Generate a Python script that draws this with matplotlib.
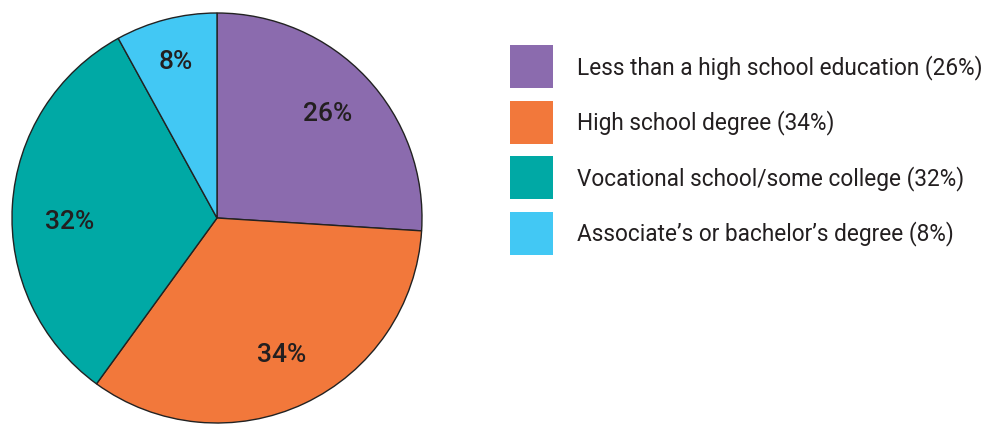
import matplotlib
matplotlib.use("Agg")
import matplotlib.pyplot as plt
from matplotlib.patches import Rectangle

categories = ["Less than a high school education", "High school degree",
              "Vocational school/some college", "Associate\u2019s or bachelor\u2019s degree"]
values = [26, 34, 32, 8]
colors = ["#8B6BAE", "#F2783B", "#00A9A5", "#42C8F4"]

W, H = 994, 426
fig = plt.figure(figsize=(W / 100, H / 100), dpi=100)
fig.patch.set_facecolor("white")

font = ["Roboto", "DejaVu Sans"]

# Pie axes (pixel box: x 12..422, y top 13..423)
cx, cy, r = 217, 218, 205
ax = fig.add_axes([(cx - r) / W, (H - cy - r) / H, 2 * r / W, 2 * r / H])
wedges, texts, autotexts = ax.pie(
    values, colors=colors, startangle=90, counterclock=False,
    autopct=lambda p: f"{p:.0f}%", pctdistance=0.74,
    wedgeprops=dict(edgecolor="#222222", linewidth=1.0),
    textprops=dict(fontsize=19, color="#231F20", fontweight=500, family=font),
)
# nudge the two left labels to match the original placement
autotexts[2].set_position((-0.72, -0.02))
autotexts[3].set_position((-0.20, 0.76))
ax.set_aspect("equal")
ax.set_xlim(-1.0, 1.0)
ax.set_ylim(-1.0, 1.0)
ax.axis("off")

# Legend axes in pixel coordinates
lax = fig.add_axes([0, 0, 1, 1])
lax.set_xlim(0, W)
lax.set_ylim(H, 0)
lax.axis("off")
y0, step, size = 45, 55.5, 43
for i, (cat, val, col) in enumerate(zip(categories, values, colors)):
    y = y0 + i * step
    lax.add_patch(Rectangle((510, y), size, size, facecolor=col, edgecolor="none"))
    lax.text(577, y + size / 2 + 1, f"{cat} ({val}%)", va="center", ha="left",
             fontsize=16.3, color="#231F20", family=font)

fig.savefig("out.png", dpi=100, facecolor="white")
